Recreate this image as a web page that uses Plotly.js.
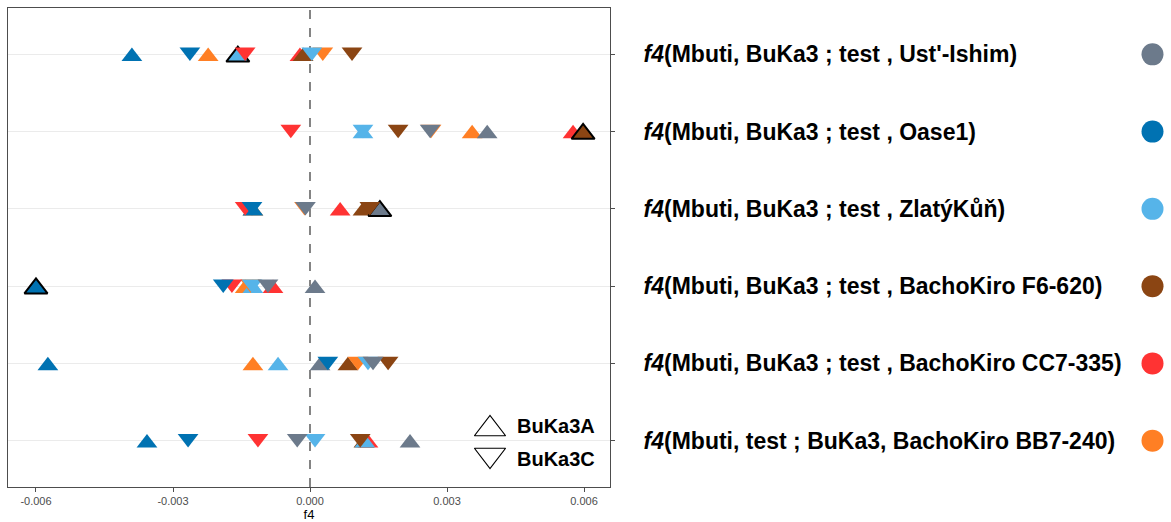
<!DOCTYPE html>
<html><head><meta charset="utf-8">
<script src="https://cdn.plot.ly/plotly-3.0.1.min.js"></script>
<style>html,body{margin:0;padding:0;background:#fff}#chart{width:1171px;height:522px}</style>
</head><body><div id="chart"></div>
<script>
// Rows (f4 statistics), top to bottom
const rowLabels = [
  "<b><i>f4</i>(Mbuti, BuKa3 ; test , Ust'-Ishim)</b>",
  "<b><i>f4</i>(Mbuti, BuKa3 ; test , Oase1)</b>",
  "<b><i>f4</i>(Mbuti, BuKa3 ; test , ZlatýKůň)</b>",
  "<b><i>f4</i>(Mbuti, BuKa3 ; test , BachoKiro F6-620)</b>",
  "<b><i>f4</i>(Mbuti, BuKa3 ; test , BachoKiro CC7-335)</b>",
  "<b><i>f4</i>(Mbuti, test ; BuKa3, BachoKiro BB7-240)</b>"
];
const rowColors = ["#6C7A8B", "#0072B2", "#56B4E9", "#8B4513", "#FF3333", "#FF7F24"];

// test populations (colour) and their f4 values per row; null = self
const tests = ["Ust'-Ishim", "Oase1", "ZlatýKůň", "BachoKiro F6-620", "BachoKiro CC7-335", "BachoKiro BB7-240"];
const grayA   = [null, 0.00388, 0.00153, 0.00011, 0.00022, 0.00219];
const grayC   = [null, 0.00263, -0.00010, -0.00092, 0.00138, -0.00028];
const blueA   = [-0.00390, null, -0.00125, -0.00600, -0.00574, -0.00357];
const blueC   = [-0.00263, null, -0.00127, -0.00190, 0.00039, -0.00267];
const ltblueA = [-0.00158, 0.00116, null, -0.00125, -0.00070, 0.00120];
const ltblueC = [0.00004, 0.00116, null, -0.00127, 0.00127, 0.00011];
const brownA  = [-0.00015, 0.00598, 0.00116, null, 0.00083, 0.00118];
const brownC  = [0.00092, 0.00193, 0.00131, null, 0.00171, 0.00110];
const redA    = [-0.00022, 0.00576, 0.00066, -0.00081, null, 0.00127];
const redC    = [-0.00142, -0.00042, -0.00142, -0.00171, null, -0.00114];
const orangeA = [-0.00223, 0.00355, -0.00125, -0.00142, -0.00125, null];
const orangeC = [0.00028, 0.00265, -0.00012, -0.00130, 0.00105, null];
// highlighted (black outlined) BuKa3A points: [test index, row index]
const highlighted = [[2, 0], [3, 1], [0, 2], [1, 3]];

const legendLabels = ["BuKa3A", "BuKa3C"];
const legendSymbols = ["triangle-up-open", "triangle-down-open"];
const xTickVals = [-0.006, -0.003, 0, 0.003, 0.006];
const xTickText = ["-0.006", "-0.003", "0.000", "0.003", "0.006"];

const valsA = [grayA, blueA, ltblueA, brownA, redA, orangeA];
const valsC = [grayC, blueC, ltblueC, brownC, redC, orangeC];
const drawOrder = [5, 4, 3, 2, 1, 0];

const MS = 18;
const traces = [];
// up triangles use y3 (shifted down), down triangles use y4 (shifted up) so that bounding boxes are centred
function addLayer(vals, symbol, yax) {
  drawOrder.forEach(t => {
    const xs = [], ys = [];
    vals[t].forEach((v, r) => {
      if (v === null) return;
      if (symbol === 'triangle-up' && highlighted.some(h => h[0] === t && h[1] === r)) return;
      xs.push(v); ys.push(r + 1);
    });
    traces.push({type: 'scatter', mode: 'markers', x: xs, y: ys, xaxis: 'x', yaxis: yax, name: tests[t], showlegend: false,
      hoverinfo: 'x', cliponaxis: false,
      marker: {symbol: symbol, size: MS, color: rowColors[t], line: {width: 0}}});
  });
}
// main-axis trace (keeps the main subplot populated)
traces.push({type: 'scatter', mode: 'markers', x: [], y: [], xaxis: 'x', yaxis: 'y', showlegend: false});
addLayer(valsA, 'triangle-up', 'y3');
addLayer(valsC, 'triangle-down', 'y4');
// highlighted
traces.push({type: 'scatter', mode: 'markers', showlegend: false, xaxis: 'x', yaxis: 'y3', cliponaxis: false,
  x: highlighted.map(h => valsA[h[0]][h[1]]), y: highlighted.map(h => h[1] + 1),
  marker: {symbol: 'triangle-up', size: MS + 2, color: highlighted.map(h => rowColors[h[0]]),
    line: {width: 2, color: '#000'}}});
// colour key dots on the right
traces.push({type: 'scatter', mode: 'markers', xaxis: 'x2', yaxis: 'y2', showlegend: false,
  x: rowLabels.map(() => 0.5), y: rowLabels.map((_, i) => i + 1),
  marker: {symbol: 'circle', size: 22, color: rowColors}});
// shape legend (axis x5/y5 in pixel-like units)
traces.push({type: 'scatter', mode: 'markers', xaxis: 'x5', yaxis: 'y5', showlegend: false,
  x: legendLabels.map(() => 20), y: legendLabels.map((_, i) => i === 0 ? 429 : 455),
  marker: {symbol: legendSymbols, size: 27, color: '#000', line: {width: 1.2, color: '#000'}}});
traces.push({type: 'scatter', mode: 'text', xaxis: 'x5', yaxis: 'y5', showlegend: false,
  x: legendLabels.map(() => 47), y: legendLabels.map((_, i) => i === 0 ? 428 : 461),
  text: legendLabels.map(l => '<b>' + l + '</b>'), textposition: 'middle right',
  textfont: {size: 20, color: '#000', family: 'Liberation Sans, Arial, sans-serif'}});

const W = 1171, H = 522, ml = 8, mr = 6, mt = 8, mb = 35;
const pw = W - ml - mr, ph = H - mt - mb;
const px = x => (x - ml) / pw;
const unitPerPx = 6.2 / ph;
const sh = MS / 8 * unitPerPx;

const yHidden = {domain: [0, 1], visible: false, showgrid: false, zeroline: false, anchor: 'x'};
const layout = {
  width: W, height: H,
  margin: {l: ml, r: mr, t: mt, b: mb},
  paper_bgcolor: '#fff', plot_bgcolor: 'rgba(0,0,0,0)',
  font: {family: 'Liberation Sans, Arial, sans-serif'},
  showlegend: false,
  xaxis: {domain: [0, px(610)], range: [-0.006613, 0.006569], tickvals: xTickVals, ticktext: xTickText,
    showgrid: false, zeroline: false, showline: true, mirror: true, linecolor: '#4d4d4d', linewidth: 1,
    ticks: 'outside', ticklen: 4, tickcolor: '#4d4d4d',
    tickfont: {size: 11, color: '#4d4d4d'},
    title: {text: 'f4', font: {size: 13, color: '#000'}, standoff: 2}},
  yaxis: {domain: [0, 1], range: [6.6, 0.4], side: 'right', tickvals: [1, 2, 3, 4, 5, 6], ticktext: rowLabels,
    showgrid: true, gridcolor: '#ebebeb', gridwidth: 1, zeroline: false,
    showline: true, mirror: true, linecolor: '#4d4d4d', linewidth: 1,
    ticks: 'outside', ticklen: 4, tickcolor: '#4d4d4d', ticklabelstandoff: 24,
    tickfont: {size: 23, color: '#000'}},
  yaxis3: Object.assign({}, yHidden, {range: [6.6 - sh, 0.4 - sh]}),
  yaxis4: Object.assign({}, yHidden, {range: [6.6 + sh, 0.4 + sh]}),
  xaxis2: {domain: [px(1140), px(1168)], range: [0, 1], visible: false, anchor: 'y2'},
  yaxis2: {domain: [0, 1], range: [6.6, 0.4], visible: false, anchor: 'x2'},
  xaxis5: {domain: [px(470), px(610)], range: [0, 140], visible: false, anchor: 'y5'},
  yaxis5: {domain: [0, 1], range: [H - mb, mt], visible: false, anchor: 'x5'},
  shapes: [{type: 'line', xref: 'x', yref: 'paper', x0: 0, x1: 0, y0: 0, y1: 1, layer: 'below',
    line: {color: '#333', width: 1.2, dash: 'dash'}}]
};
Plotly.newPlot('chart', traces, layout, {displayModeBar: false, staticPlot: true});
</script></body></html>
